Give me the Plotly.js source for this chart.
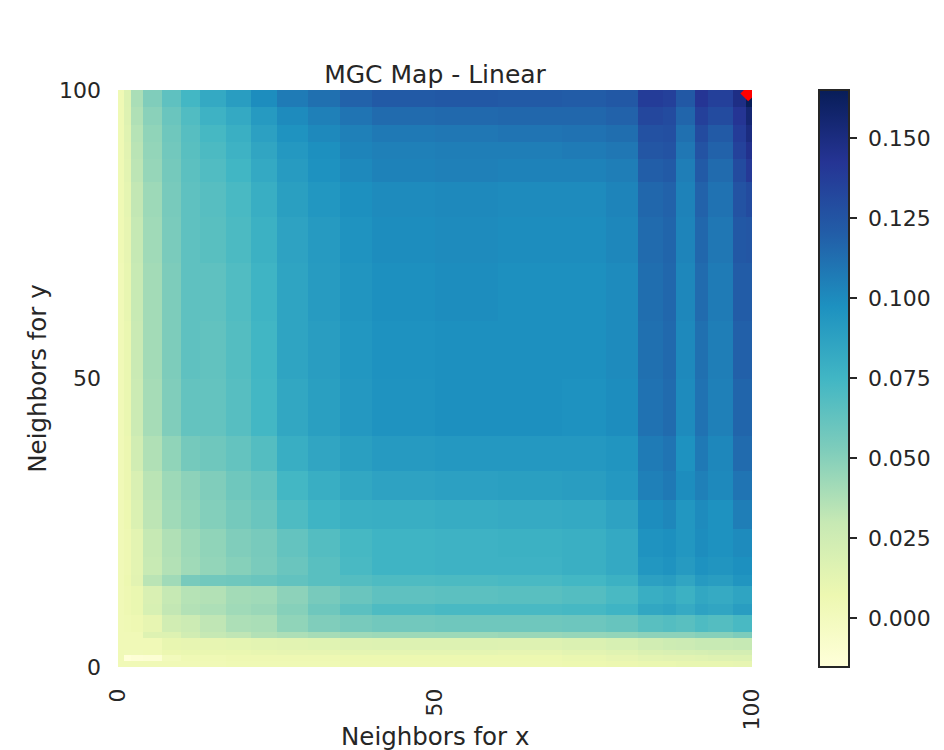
<!DOCTYPE html>
<html>
<head>
<meta charset="utf-8">
<script src="https://cdn.plot.ly/plotly-3.0.1.min.js"></script>
<style>
  html, body { margin: 0; padding: 0; background: #fff; }
  #chart { width: 944px; height: 750px; }
</style>
</head>
<body>
<div id="chart"></div>
<script>
// cell edges (neighbors), finer where the map changes fast
const xEdges = [0, 1, 2, 4, 7, 10, 13, 17, 21, 25, 30, 35, 40, 50, 60, 70, 77, 82, 86, 88, 91, 93, 97, 99, 100];
const yEdges = [0, 1, 2, 3, 5, 6, 9, 11, 14, 16, 19, 24, 29, 34, 40, 50, 60, 70, 78, 84, 88, 91, 94, 97, 100];

// MGC statistic per cell, first row = bottom (few neighbors for y)
const mgcMap = [
  [0.004, 0.004, 0.004, 0.004, 0.004, 0.004, 0.004, 0.005, 0.005, 0.005, 0.005, 0.006, 0.006, 0.006, 0.006, 0.007, 0.008, 0.009, 0.009, 0.010, 0.010, 0.010, 0.011, 0.011],
  [0.004, -0.015, -0.013, -0.012, 0.001, 0.005, 0.005, 0.006, 0.006, 0.006, 0.006, 0.007, 0.007, 0.007, 0.007, 0.009, 0.011, 0.013, 0.014, 0.014, 0.015, 0.016, 0.017, 0.017],
  [0.004, 0.003, 0.003, 0.004, 0.008, 0.009, 0.009, 0.009, 0.010, 0.011, 0.011, 0.012, 0.012, 0.012, 0.011, 0.013, 0.015, 0.018, 0.019, 0.020, 0.021, 0.022, 0.022, 0.022],
  [0.004, 0.004, 0.004, 0.004, 0.010, 0.011, 0.011, 0.012, 0.013, 0.014, 0.015, 0.016, 0.017, 0.017, 0.016, 0.018, 0.020, 0.024, 0.026, 0.027, 0.029, 0.029, 0.030, 0.030],
  [0.004, 0.004, 0.004, 0.016, 0.017, 0.024, 0.030, 0.032, 0.036, 0.038, 0.040, 0.042, 0.043, 0.043, 0.044, 0.045, 0.046, 0.048, 0.048, 0.048, 0.050, 0.050, 0.053, 0.053],
  [0.004, 0.005, 0.006, 0.011, 0.024, 0.027, 0.032, 0.038, 0.039, 0.047, 0.052, 0.055, 0.057, 0.058, 0.058, 0.059, 0.061, 0.066, 0.068, 0.066, 0.070, 0.068, 0.072, 0.072],
  [0.004, 0.006, 0.009, 0.020, 0.031, 0.036, 0.038, 0.042, 0.044, 0.050, 0.058, 0.065, 0.070, 0.072, 0.072, 0.073, 0.076, 0.084, 0.086, 0.082, 0.087, 0.085, 0.090, 0.090],
  [0.004, 0.006, 0.009, 0.019, 0.030, 0.035, 0.036, 0.041, 0.042, 0.048, 0.055, 0.060, 0.064, 0.065, 0.066, 0.068, 0.072, 0.080, 0.082, 0.078, 0.084, 0.082, 0.086, 0.086],
  [0.004, 0.007, 0.014, 0.034, 0.042, 0.055, 0.057, 0.058, 0.060, 0.063, 0.066, 0.068, 0.070, 0.071, 0.072, 0.074, 0.078, 0.088, 0.090, 0.085, 0.092, 0.090, 0.095, 0.095],
  [0.004, 0.006, 0.013, 0.029, 0.036, 0.042, 0.046, 0.050, 0.054, 0.060, 0.066, 0.072, 0.076, 0.077, 0.077, 0.079, 0.083, 0.094, 0.096, 0.092, 0.097, 0.095, 0.098, 0.098],
  [0.004, 0.006, 0.013, 0.030, 0.037, 0.043, 0.047, 0.052, 0.055, 0.062, 0.068, 0.073, 0.076, 0.077, 0.078, 0.079, 0.083, 0.096, 0.098, 0.094, 0.099, 0.097, 0.100, 0.100],
  [0.004, 0.007, 0.018, 0.033, 0.042, 0.047, 0.051, 0.056, 0.060, 0.070, 0.076, 0.079, 0.080, 0.081, 0.082, 0.083, 0.087, 0.099, 0.102, 0.094, 0.100, 0.097, 0.106, 0.106],
  [0.004, 0.008, 0.019, 0.034, 0.043, 0.048, 0.052, 0.058, 0.062, 0.074, 0.080, 0.084, 0.087, 0.088, 0.089, 0.090, 0.093, 0.105, 0.108, 0.099, 0.105, 0.101, 0.110, 0.110],
  [0.004, 0.008, 0.024, 0.037, 0.047, 0.056, 0.058, 0.062, 0.068, 0.080, 0.085, 0.089, 0.092, 0.093, 0.093, 0.093, 0.095, 0.107, 0.110, 0.097, 0.108, 0.102, 0.114, 0.114],
  [0.004, 0.009, 0.027, 0.040, 0.052, 0.062, 0.062, 0.067, 0.074, 0.084, 0.089, 0.093, 0.096, 0.098, 0.098, 0.097, 0.099, 0.111, 0.114, 0.100, 0.111, 0.105, 0.117, 0.117],
  [0.004, 0.009, 0.028, 0.041, 0.053, 0.064, 0.063, 0.068, 0.075, 0.086, 0.090, 0.094, 0.097, 0.098, 0.098, 0.098, 0.100, 0.112, 0.115, 0.101, 0.112, 0.106, 0.119, 0.119],
  [0.004, 0.010, 0.029, 0.041, 0.053, 0.064, 0.064, 0.069, 0.076, 0.086, 0.091, 0.095, 0.098, 0.099, 0.098, 0.098, 0.100, 0.113, 0.116, 0.102, 0.114, 0.107, 0.121, 0.121],
  [0.005, 0.011, 0.030, 0.042, 0.054, 0.064, 0.066, 0.071, 0.078, 0.087, 0.092, 0.096, 0.099, 0.100, 0.099, 0.099, 0.102, 0.114, 0.117, 0.103, 0.116, 0.109, 0.123, 0.124],
  [0.005, 0.012, 0.031, 0.043, 0.055, 0.064, 0.067, 0.072, 0.080, 0.089, 0.094, 0.098, 0.100, 0.101, 0.100, 0.100, 0.103, 0.116, 0.118, 0.104, 0.118, 0.111, 0.126, 0.130],
  [0.005, 0.013, 0.033, 0.045, 0.056, 0.065, 0.069, 0.075, 0.083, 0.091, 0.097, 0.101, 0.104, 0.105, 0.104, 0.104, 0.106, 0.120, 0.122, 0.106, 0.122, 0.114, 0.130, 0.140],
  [0.005, 0.014, 0.034, 0.046, 0.057, 0.066, 0.071, 0.077, 0.085, 0.093, 0.098, 0.103, 0.105, 0.106, 0.106, 0.107, 0.109, 0.124, 0.126, 0.109, 0.126, 0.118, 0.135, 0.145],
  [0.005, 0.015, 0.035, 0.047, 0.058, 0.067, 0.073, 0.079, 0.088, 0.096, 0.101, 0.105, 0.108, 0.109, 0.110, 0.111, 0.113, 0.127, 0.128, 0.112, 0.130, 0.122, 0.138, 0.150],
  [0.005, 0.016, 0.037, 0.049, 0.060, 0.069, 0.077, 0.083, 0.092, 0.100, 0.105, 0.110, 0.114, 0.115, 0.116, 0.116, 0.118, 0.132, 0.130, 0.117, 0.136, 0.130, 0.142, 0.155],
  [0.005, 0.017, 0.039, 0.052, 0.064, 0.074, 0.083, 0.090, 0.099, 0.107, 0.112, 0.118, 0.122, 0.123, 0.122, 0.121, 0.123, 0.138, 0.136, 0.123, 0.142, 0.136, 0.148, 0.165]
];

// optimal scale marker
const optScale = { x: [99.4], y: [99.4] };

const axisTicks = [0, 50, 100];
const cbarTicks = [0, 0.025, 0.05, 0.075, 0.1, 0.125, 0.15];
const cbarLabels = ["0.000", "0.025", "0.050", "0.075", "0.100", "0.125", "0.150"];

// matplotlib YlGnBu
const ylGnBu = [
  [0, "#ffffd9"], [0.125, "#edf8b1"], [0.25, "#c7e9b4"], [0.375, "#7fcdbb"],
  [0.5, "#41b6c4"], [0.625, "#1d91c0"], [0.75, "#225ea8"], [0.875, "#253494"], [1, "#081d58"]
];

const textColor = "#262626";
const fontFamily = "DejaVu Sans, sans-serif";

const heat = {
  type: "heatmap",
  x: xEdges,
  y: yEdges,
  z: mgcMap,
  colorscale: ylGnBu,
  zmin: -0.0153,
  zmax: 0.165,
  hoverinfo: "skip",
  colorbar: {
    x: 1.1057,
    xanchor: "left",
    xpad: 0,
    y: 0.5,
    yanchor: "middle",
    ypad: 0,
    len: 1,
    thickness: 30,
    outlinecolor: textColor,
    outlinewidth: 2,
    tickvals: cbarTicks,
    // leading space widens the gap between tick and label
    ticktext: cbarLabels.map(s => "\u00a0" + s),
    ticks: "outside",
    ticklen: 7,
    tickwidth: 1.8,
    tickcolor: textColor,
    tickfont: { size: 22, color: textColor, family: fontFamily }
  }
};

const marker = {
  type: "scatter",
  mode: "markers",
  x: optScale.x,
  y: optScale.y,
  marker: { color: "red", size: 12, symbol: "diamond" },
  cliponaxis: true,
  hoverinfo: "skip",
  showlegend: false
};

const layout = {
  width: 944,
  height: 750,
  margin: { l: 118, r: 192, t: 90, b: 83 },
  paper_bgcolor: "#fff",
  plot_bgcolor: "#fff",
  showlegend: false,
  font: { family: fontFamily, color: textColor },
  title: {
    text: "MGC Map - Linear",
    font: { size: 25, color: textColor, family: fontFamily },
    x: 0.5,
    xref: "paper",
    xanchor: "center",
    y: 1 - 74 / 750,
    yref: "container",
    yanchor: "middle"
  },
  // x label placed low, just inside the page edge
  annotations: [{
    text: "Neighbors for x",
    xref: "paper",
    yref: "paper",
    x: 0.5,
    y: -0.121,
    xanchor: "center",
    yanchor: "middle",
    showarrow: false,
    font: { size: 24.5, color: textColor, family: fontFamily }
  }],
  xaxis: {
    range: [0, 100],
    tickvals: axisTicks,
    tickangle: -90,
    ticks: "",
    ticklabelstandoff: 16,
    showgrid: false,
    zeroline: false,
    showline: false,
    tickfont: { size: 22, color: textColor, family: fontFamily }
  },
  yaxis: {
    range: [0, 100],
    tickvals: axisTicks,
    ticks: "",
    ticklabelstandoff: 16,
    showgrid: false,
    zeroline: false,
    showline: false,
    tickfont: { size: 22, color: textColor, family: fontFamily },
    title: { text: "Neighbors for y", font: { size: 24.5, color: textColor, family: fontFamily }, standoff: 5 }
  }
};

Plotly.newPlot("chart", [heat, marker], layout, { displayModeBar: false, staticPlot: true });
</script>
</body>
</html>
